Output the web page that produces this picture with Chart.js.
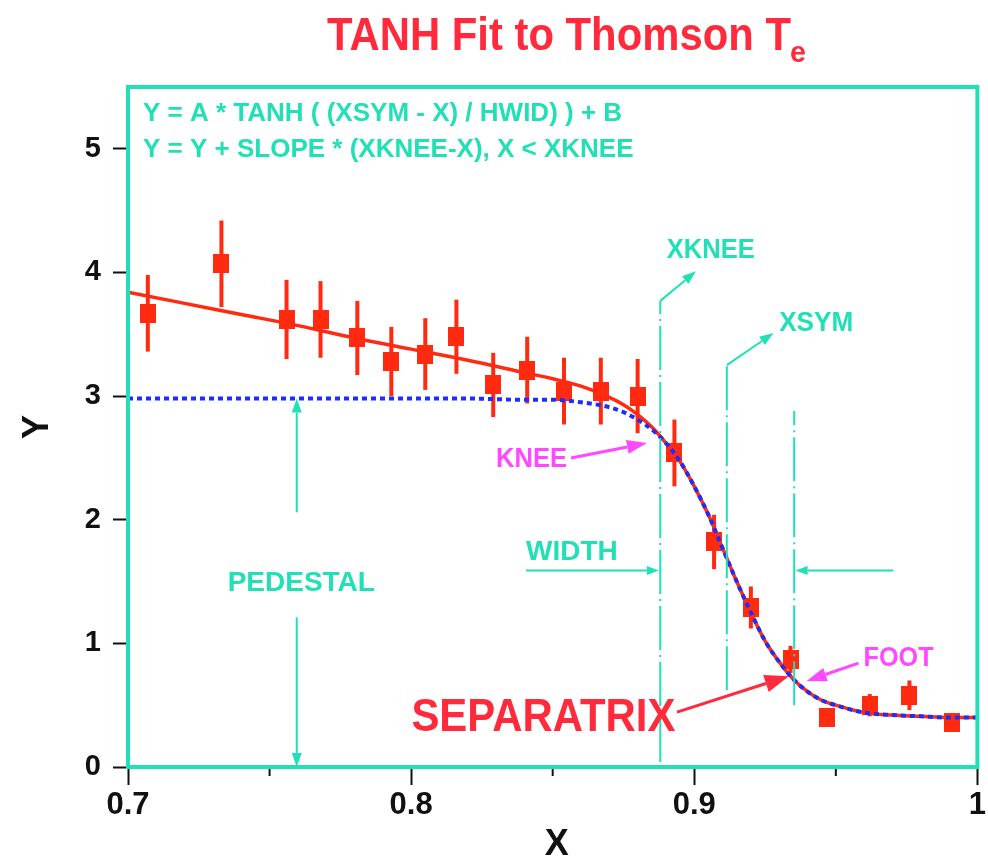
<!DOCTYPE html>
<html>
<head>
<meta charset="utf-8">
<script src="https://cdn.jsdelivr.net/npm/chart.js@4.4.1/dist/chart.umd.min.js"></script>
<style>
  html, body { margin: 0; padding: 0; background: #fff; }
  #wrap { width: 988px; height: 857px; }
</style>
</head>
<body>
<div id="wrap"><canvas id="te"></canvas></div>
<script>
// measured Thomson Te points (x = normalised radius)
const ptX   = [0.707, 0.733, 0.756, 0.768, 0.781, 0.793, 0.805, 0.816, 0.829, 0.841, 0.854,
               0.867, 0.880, 0.893, 0.907, 0.920, 0.934, 0.947, 0.962, 0.976, 0.991]
const ptY   = [3.67, 4.07, 3.62, 3.62, 3.47, 3.28, 3.34, 3.48, 3.09, 3.21, 3.04,
               3.04, 3.00, 2.54, 1.82, 1.29, 0.87, 0.40, 0.50, 0.58, 0.36]
const ptErr = [0.31, 0.35, 0.32, 0.31, 0.30, 0.28, 0.29, 0.30, 0.26, 0.27, 0.27,
               0.27, 0.30, 0.27, 0.22, 0.17, 0.11, 0.06, 0.09, 0.12, 0.07]

// fit curves
const curveX = [0.70, 0.72, 0.74, 0.76, 0.78, 0.80, 0.82, 0.84, 0.85, 0.86, 0.87, 0.875, 0.88, 0.885,
                0.89, 0.895, 0.90, 0.905, 0.91, 0.915, 0.92, 0.925, 0.93, 0.935, 0.94, 0.945,
                0.95, 0.96, 0.97, 0.98, 0.99, 1.00]
const fitY   = [3.84, 3.75, 3.66, 3.57, 3.47, 3.38, 3.29, 3.19, 3.14, 3.08, 2.99, 2.93, 2.85, 2.75,
                2.62, 2.47, 2.27, 2.04, 1.77, 1.50, 1.25, 1.02, 0.85, 0.71, 0.61, 0.54,
                0.50, 0.44, 0.42, 0.41, 0.40, 0.40]
const pedY   = [2.98, 2.98, 2.98, 2.98, 2.98, 2.98, 2.98, 2.97, 2.97, 2.95, 2.91, 2.87, 2.81, 2.73,
                2.62, 2.47, 2.27, 2.04, 1.77, 1.50, 1.25, 1.02, 0.85, 0.71, 0.61, 0.54,
                0.50, 0.44, 0.42, 0.41, 0.40, 0.40]

const xTicks = [0.7, 0.8, 0.9, 1.0]
const xMinor = [0.75, 0.85, 0.95]
const yTicks = [0, 1, 2, 3, 4, 5]

const TEAL = '#22e0b5'
const MAG = '#ff48ff'
const RED = '#ff2a3c'
const PTRED = '#ff2a10'

const zip = (xs, ys) => xs.map((x, i) => ({ x: x, y: ys[i] }))

// rectangular marker like the original
const marker = document.createElement('canvas')
marker.width = 16; marker.height = 19
const mctx = marker.getContext('2d')
mctx.fillStyle = PTRED
mctx.fillRect(0, 0, 16, 19)

function arrow(ctx, x1, y1, x2, y2, color, lw, hl, hw) {
  const a = Math.atan2(y2 - y1, x2 - x1)
  const bx = x2 - hl * Math.cos(a), by = y2 - hl * Math.sin(a)
  ctx.strokeStyle = color; ctx.fillStyle = color; ctx.lineWidth = lw
  ctx.setLineDash([])
  ctx.beginPath(); ctx.moveTo(x1, y1); ctx.lineTo(bx, by); ctx.stroke()
  ctx.beginPath()
  ctx.moveTo(x2, y2)
  ctx.lineTo(bx + hw / 2 * Math.sin(a), by - hw / 2 * Math.cos(a))
  ctx.lineTo(bx - hw / 2 * Math.sin(a), by + hw / 2 * Math.cos(a))
  ctx.closePath(); ctx.fill()
}

function label(ctx, txt, x, y, color, size, width) {
  ctx.font = 'bold ' + size + 'px "Liberation Sans", Arial, sans-serif'
  ctx.fillStyle = color
  ctx.textAlign = 'left'
  ctx.textBaseline = 'middle'
  ctx.fillText(txt, x, y, width)
}

// error bars, drawn under the squares
const errorBars = {
  id: 'errorBars',
  beforeDatasetsDraw(chart) {
    const { ctx, scales: { x, y } } = chart
    ctx.save()
    ctx.strokeStyle = PTRED
    ctx.lineWidth = 4
    ptX.forEach((v, i) => {
      const px = x.getPixelForValue(v)
      ctx.beginPath()
      ctx.moveTo(px, y.getPixelForValue(ptY[i] - ptErr[i]))
      ctx.lineTo(px, y.getPixelForValue(ptY[i] + ptErr[i]))
      ctx.stroke()
    })
    ctx.restore()
  }
}

// frame, title, formula and the explanatory marks
const notes = {
  id: 'notes',
  afterDraw(chart) {
    const { ctx, chartArea: a, scales: { x, y } } = chart
    const X = v => x.getPixelForValue(v)
    const Y = v => y.getPixelForValue(v)
    ctx.save()

    // title
    ctx.font = 'bold 46px "Liberation Sans", Arial, sans-serif'
    ctx.fillStyle = RED
    ctx.textBaseline = 'alphabetic'
    ctx.textAlign = 'left'
    ctx.fillText('TANH Fit to Thomson T', 327, 50, 464)
    ctx.font = 'bold 30px "Liberation Sans", Arial, sans-serif'
    ctx.fillText('e', 790, 62, 16)

    // minor ticks
    ctx.strokeStyle = '#111'
    ctx.lineWidth = 2
    xMinor.forEach(v => {
      ctx.beginPath(); ctx.moveTo(X(v), a.bottom); ctx.lineTo(X(v), a.bottom + 9); ctx.stroke()
    })

    // axis titles
    ctx.fillStyle = '#111'
    ctx.font = 'bold 36px "Liberation Sans Narrow", "Liberation Sans", sans-serif'
    ctx.textAlign = 'center'; ctx.textBaseline = 'middle'
    ctx.fillText('X', (a.left + a.right) / 2 + 4, 845)
    ctx.save()
    ctx.translate(38, (a.top + a.bottom) / 2)
    ctx.rotate(-Math.PI / 2)
    ctx.fillText('Y', 0, 0)
    ctx.restore()

    // formulas
    label(ctx, 'Y = A * TANH ( (XSYM - X) / HWID) ) + B', a.left + 15, a.top + 27, TEAL, 26, 512)
    label(ctx, 'Y = Y + SLOPE * (XKNEE-X), X < XKNEE', a.left + 15, a.top + 63, TEAL, 26, 518)

    // dash-dot guides
    ctx.strokeStyle = TEAL
    ctx.lineWidth = 2
    ctx.setLineDash([44, 5, 2, 5])
    const guide = (xv, y0, y1) => {
      ctx.beginPath(); ctx.moveTo(X(xv), Y(y0)); ctx.lineTo(X(xv), Y(y1)); ctx.stroke()
    }
    guide(0.888, 0.04, 3.77)
    guide(0.9115, 0.62, 3.25)
    guide(0.9353, 0.50, 2.88)
    ctx.setLineDash([])

    arrow(ctx, X(0.888), Y(3.77), X(0.9006), Y(4.01), TEAL, 2, 14, 10)
    arrow(ctx, X(0.9115), Y(3.25), X(0.928), Y(3.51), TEAL, 2, 14, 10)
    label(ctx, 'XKNEE', X(0.8903), Y(4.18), TEAL, 28, 88)
    label(ctx, 'XSYM', X(0.930), Y(3.59), TEAL, 28, 74)

    // width arrows
    label(ctx, 'WIDTH', X(0.8406), Y(1.74), TEAL, 28, 93)
    arrow(ctx, X(0.8406), Y(1.59), X(0.8875), Y(1.59), TEAL, 2, 12, 9)
    arrow(ctx, X(0.9703), Y(1.59), X(0.9358), Y(1.59), TEAL, 2, 12, 9)

    // pedestal arrows
    label(ctx, 'PEDESTAL', X(0.7352), Y(1.49), TEAL, 28, 150)
    arrow(ctx, X(0.7596), Y(2.06), X(0.7596), Y(2.98), TEAL, 2, 14, 10)
    arrow(ctx, X(0.7596), Y(1.21), X(0.7596), Y(0.0), TEAL, 2, 14, 10)

    // knee / foot / separatrix
    label(ctx, 'KNEE', X(0.830), Y(2.49), MAG, 28, 71)
    arrow(ctx, X(0.8565), Y(2.50), X(0.8833), Y(2.62), MAG, 3, 20, 14)
    label(ctx, 'FOOT', X(0.9598), Y(0.88), MAG, 28, 70)
    arrow(ctx, X(0.958), Y(0.84), X(0.9397), Y(0.695), MAG, 3, 20, 14)
    label(ctx, 'SEPARATRIX', X(0.8001), Y(0.396), RED, 46, 264)
    arrow(ctx, X(0.8939), Y(0.444), X(0.9334), Y(0.735), RED, 3, 24, 18)

    // frame
    ctx.strokeStyle = TEAL
    ctx.lineWidth = 4
    ctx.strokeRect(a.left, a.top, a.right - a.left, a.bottom - a.top)
    ctx.restore()
  }
}

const tickFont = { family: '"Liberation Sans Narrow", "Liberation Sans", sans-serif', weight: 'bold', size: 31 }

new Chart(document.getElementById('te'), {
  type: 'scatter',
  data: {
    datasets: [
      {
        label: 'pedestal tanh',
        data: zip(curveX, pedY),
        showLine: true,
        borderColor: '#1d2cff',
        borderWidth: 4,
        borderDash: [5, 4],
        pointRadius: 0,
        cubicInterpolationMode: 'monotone',
        order: 0
      },
      {
        label: 'Te',
        data: zip(ptX, ptY),
        pointStyle: marker,
        pointRadius: 9,
        backgroundColor: PTRED,
        borderColor: PTRED,
        order: 1
      },
      {
        label: 'fit',
        data: zip(curveX, fitY),
        showLine: true,
        borderColor: PTRED,
        borderWidth: 3.5,
        pointRadius: 0,
        cubicInterpolationMode: 'monotone',
        order: 2
      }
    ]
  },
  options: {
    responsive: true,
    maintainAspectRatio: false,
    animation: false,
    layout: { padding: { top: 87, right: 9, left: 0, bottom: 0 } },
    plugins: { legend: { display: false }, title: { display: false }, tooltip: { enabled: false } },
    scales: {
      x: {
        type: 'linear',
        min: 0.7,
        max: 1.0,
        afterFit: s => { s.height = 90 },
        afterBuildTicks: s => { s.ticks = xTicks.map(v => ({ value: v })) },
        border: { display: false },
        grid: { drawOnChartArea: false, tickLength: 18, tickColor: '#111', tickWidth: 2 },
        ticks: {
          color: '#111',
          font: tickFont,
          padding: 2,
          maxRotation: 0,
          autoSkip: false,
          callback: v => (v === 1 ? '1' : v.toFixed(1))
        }
      },
      y: {
        min: 0,
        max: 5.5,
        afterFit: s => { s.width = 128 },
        afterBuildTicks: s => { s.ticks = yTicks.map(v => ({ value: v })) },
        border: { display: false },
        grid: { drawOnChartArea: false, tickLength: 15, tickColor: '#111', tickWidth: 2 },
        ticks: { color: '#111', font: { ...tickFont, size: 29 }, padding: 12 }
      }
    }
  },
  plugins: [errorBars, notes]
})
</script>
</body>
</html>
